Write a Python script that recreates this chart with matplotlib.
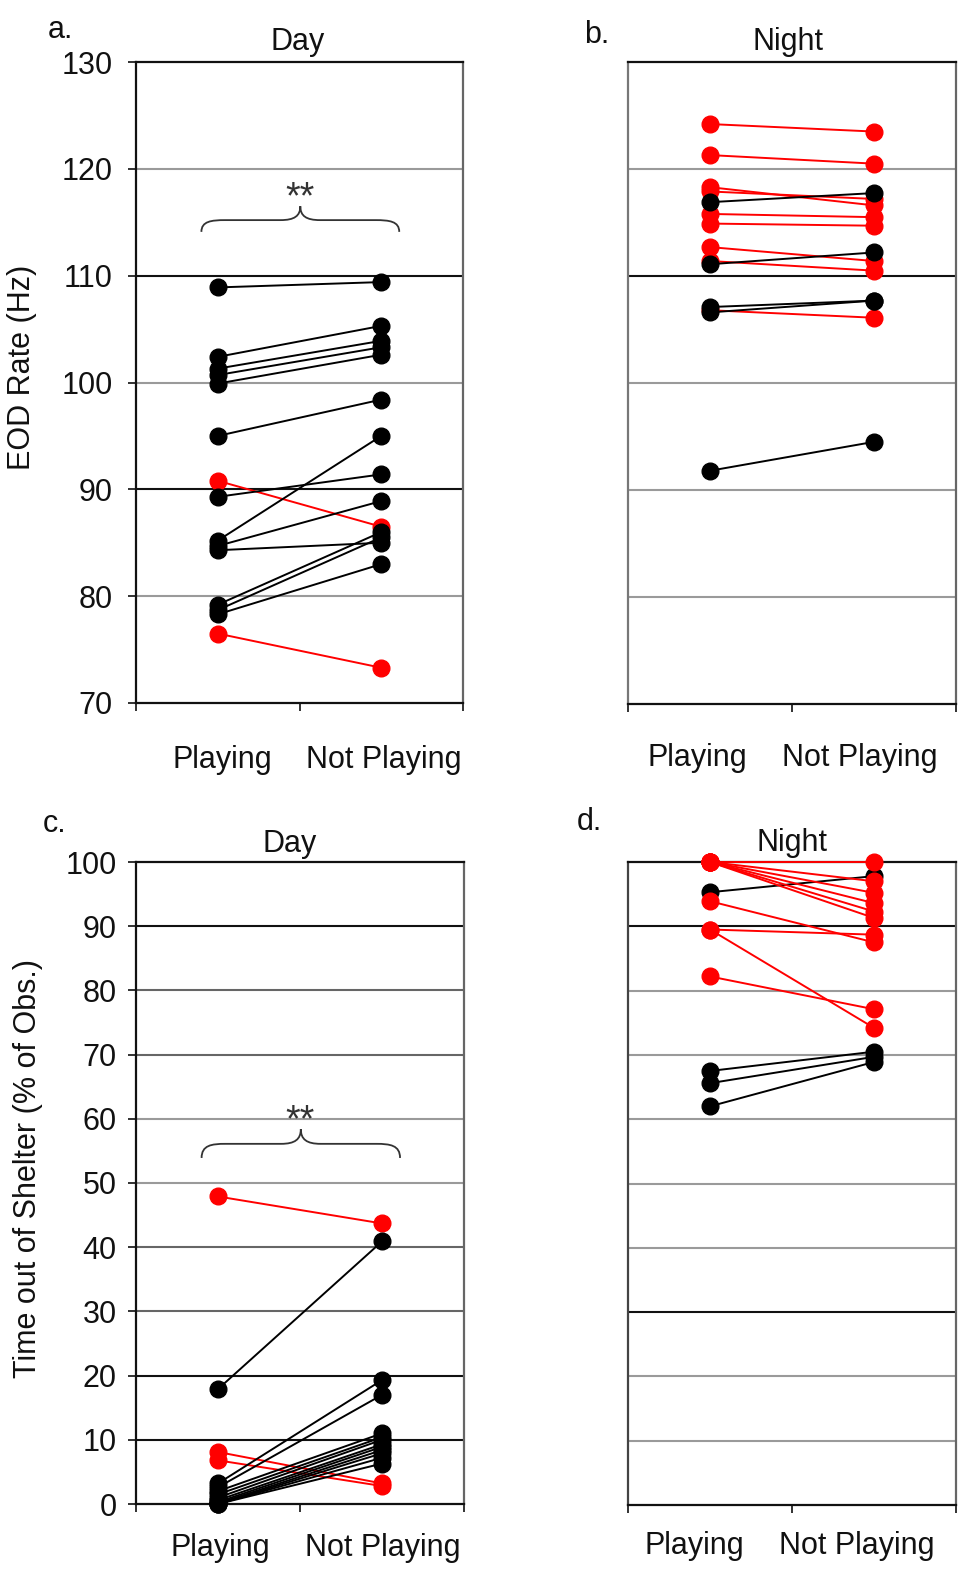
import matplotlib
matplotlib.use("Agg")
import matplotlib.pyplot as plt
from matplotlib.path import Path
from matplotlib.patches import PathPatch

plt.rcParams['font.family'] = ['Liberation Sans', 'DejaVu Sans']

# ---------------- data ----------------
conditions = ["Playing", "Not Playing"]

# a. EOD rate, Day
a_black_play = [108.9, 102.4, 101.3, 100.7, 99.9, 95.0, 89.3, 85.2, 84.7, 84.3, 79.2, 78.7, 78.3]
a_black_notplay = [109.4, 105.3, 103.9, 103.3, 102.6, 98.4, 91.4, 95.0, 88.9, 85.0, 86.0, 85.5, 83.0]
a_red_play = [90.8, 76.5]
a_red_notplay = [86.5, 73.3]

# b. EOD rate, Night
b_red_play = [124.2, 121.3, 118.3, 117.9, 115.8, 114.9, 112.7, 111.4, 106.8]
b_red_notplay = [123.5, 120.5, 116.6, 117.2, 115.5, 114.7, 111.4, 110.5, 106.1]
b_black_play = [116.9, 111.1, 107.1, 106.6, 91.8]
b_black_notplay = [117.75, 112.2, 107.7, 107.7, 94.5]

# c. Time out of shelter, Day
c_red_play = [47.9, 8.1, 6.8]
c_red_notplay = [43.7, 3.2, 2.8]
c_black_play = [17.9, 3.2, 2.6, 2.0, 1.5, 1.0, 0.6, 0.3, 0.1, 0.0, 0.0, 0.0]
c_black_notplay = [40.9, 19.3, 17.0, 11.0, 10.4, 10.0, 9.3, 8.9, 8.4, 7.9, 7.2, 6.3]

# d. Time out of shelter, Night
d_red_play = [100, 100, 100, 100, 100, 100, 93.9, 89.5, 89.5, 82.2]
d_red_notplay = [100, 97.0, 95.2, 93.6, 92.3, 91.3, 87.5, 88.7, 74.2, 77.1]
d_black_play = [95.3, 67.5, 65.6, 62.0]
d_black_notplay = [97.8, 70.5, 69.7, 68.9]

eod_ticks = [70, 80, 90, 100, 110, 120, 130]
shelter_ticks = [0, 10, 20, 30, 40, 50, 60, 70, 80, 90, 100]

# ---------------- figure ----------------
W, H = 963, 1574
fig = plt.figure(figsize=(W / 100, H / 100), dpi=100)
TXT = "#111111"
FS = 22
XPOS = [0.5, 1.5]


def px_axes(x0, y0, x1, y1):
    return fig.add_axes([x0 / W, 1 - y1 / H, (x1 - x0) / W, (y1 - y0) / H])


def draw_pairs(ax, play, notplay, color):
    for p, n in zip(play, notplay):
        ax.plot(XPOS, [p, n], '-', color=color, lw=1.4, marker='o', ms=12,
                mfc=color, mec=color, clip_on=False, zorder=3)


def style_axes(ax, ylim, yticks, grid_colors, show_ylabels, xpad, ypad, label_shift):
    ax.set_xlim(0, 2)
    ax.set_ylim(*ylim)
    ax.set_yticks(yticks)
    # label-only major ticks, nudged slightly as in the original layout
    ax.set_xticks([XPOS[0] + label_shift[0], XPOS[1] + label_shift[1]])
    ax.set_xticklabels(conditions, fontsize=FS, color=TXT)
    ax.set_xticks([0, 1, 2], minor=True)
    ax.tick_params(axis='x', which='major', length=0, pad=xpad)
    ax.tick_params(axis='x', which='minor', length=6, width=1.3, direction='out', color='#222222')
    if show_ylabels:
        ax.tick_params(axis='y', length=6, width=1.3, direction='out', pad=ypad,
                       labelsize=FS, labelcolor=TXT, color='#222222')
    else:
        ax.tick_params(axis='y', length=0, labelleft=False)
    ax.grid(axis='y', lw=1.5, zorder=1)
    for gl, c in zip(ax.get_ygridlines(), grid_colors):
        gl.set_color(c)
    for side in ['left', 'bottom', 'top']:
        ax.spines[side].set_color('#111111')
        ax.spines[side].set_linewidth(1.6)
    ax.spines['right'].set_color('#666666')
    ax.spines['right'].set_linewidth(1.6)
    ax.set_axisbelow(True)


def brace(ax, x0, x1, ytip, ybar, ypeak):
    xm = (x0 + x1) / 2
    w = x1 - x0
    verts = [
        (x0, ytip),
        (x0, ybar - (ybar - ytip) * 0.1), (x0 + 0.05 * w, ybar), (x0 + 0.12 * w, ybar),
        (xm - 0.1 * w, ybar),
        (xm - 0.03 * w, ybar), (xm, ybar + (ypeak - ybar) * 0.3), (xm, ypeak),
        (xm, ybar + (ypeak - ybar) * 0.3), (xm + 0.03 * w, ybar), (xm + 0.1 * w, ybar),
        (x1 - 0.12 * w, ybar),
        (x1 - 0.05 * w, ybar), (x1, ybar - (ybar - ytip) * 0.1), (x1, ytip),
    ]
    codes = [Path.MOVETO,
             Path.CURVE4, Path.CURVE4, Path.CURVE4,
             Path.LINETO,
             Path.CURVE4, Path.CURVE4, Path.CURVE4,
             Path.CURVE4, Path.CURVE4, Path.CURVE4,
             Path.LINETO,
             Path.CURVE4, Path.CURVE4, Path.CURVE4]
    ax.add_patch(PathPatch(Path(verts, codes), fill=False, lw=1.3, ec='#333333', zorder=4))


GRAY = '#9a9a9a'
DGRAY = '#666666'
BLK = '#111111'

# a.
ax_a = px_axes(136, 62, 463, 703)
style_axes(ax_a, (70, 130), eod_ticks,
           ['none', GRAY, BLK, GRAY, BLK, GRAY, 'none'], True, 30, 11, [0.03, 0.018])
draw_pairs(ax_a, a_red_play, a_red_notplay, 'red')
draw_pairs(ax_a, a_black_play, a_black_notplay, 'black')
brace(ax_a, 0.40, 1.61, 114.1, 115.2, 116.5)
ax_a.text(1.0, 116.3, "**", ha='center', va='baseline', fontsize=27, color='#333333')

# b.
ax_b = px_axes(628, 62, 956, 704)
style_axes(ax_b, (70, 130), eod_ticks,
           ['none', GRAY, GRAY, GRAY, BLK, GRAY, 'none'], False, 28, 11, [-0.08, -0.085])
ax_b.spines['left'].set_color('#777777')
draw_pairs(ax_b, b_red_play, b_red_notplay, 'red')
draw_pairs(ax_b, b_black_play, b_black_notplay, 'black')

# c.
ax_c = px_axes(136, 862, 464, 1504)
style_axes(ax_c, (0, 100), shelter_ticks,
           ['none', BLK, BLK, DGRAY, DGRAY, GRAY, GRAY, DGRAY, DGRAY, BLK, 'none'], True, 21, 8,
           [0.012, 0.006])
draw_pairs(ax_c, c_red_play, c_red_notplay, 'red')
draw_pairs(ax_c, c_black_play, c_black_notplay, 'black')
brace(ax_c, 0.40, 1.61, 53.9, 56.1, 58.4)
ax_c.text(1.0, 58.1, "**", ha='center', va='baseline', fontsize=27, color='#333333')

# d.
ax_d = px_axes(628, 862, 956, 1505)
style_axes(ax_d, (0, 100), shelter_ticks,
           ['none', GRAY, GRAY, BLK, GRAY, GRAY, GRAY, GRAY, GRAY, BLK, 'none'], False, 19, 8,
           [-0.098, -0.104])
ax_d.spines['left'].set_color('#444444')
draw_pairs(ax_d, d_black_play, d_black_notplay, 'black')
draw_pairs(ax_d, d_red_play, d_red_notplay, 'red')


# ---------------- text ----------------
def ftext(x, y, s, **kw):
    kw.setdefault('fontsize', FS)
    kw.setdefault('color', TXT)
    fig.text(x / W, 1 - y / H, s, **kw)


ftext(48, 38, "a.", ha='left', va='baseline')
ftext(584, 43, "b.", ha='left', va='baseline')
ftext(43, 832, "c.", ha='left', va='baseline')
ftext(577, 830, "d.", ha='left', va='baseline')

ftext(298, 50, "Day", ha='center', va='baseline')
ftext(788, 50, "Night", ha='center', va='baseline')
ftext(290, 852, "Day", ha='center', va='baseline')
ftext(792, 851, "Night", ha='center', va='baseline')

ftext(22, 367, "EOD Rate (Hz)", ha='center', va='center', rotation=90)
ftext(28, 1168, "Time out of Shelter (% of Obs.)", ha='center', va='center', rotation=90)

fig.savefig("out.png", dpi=100)
